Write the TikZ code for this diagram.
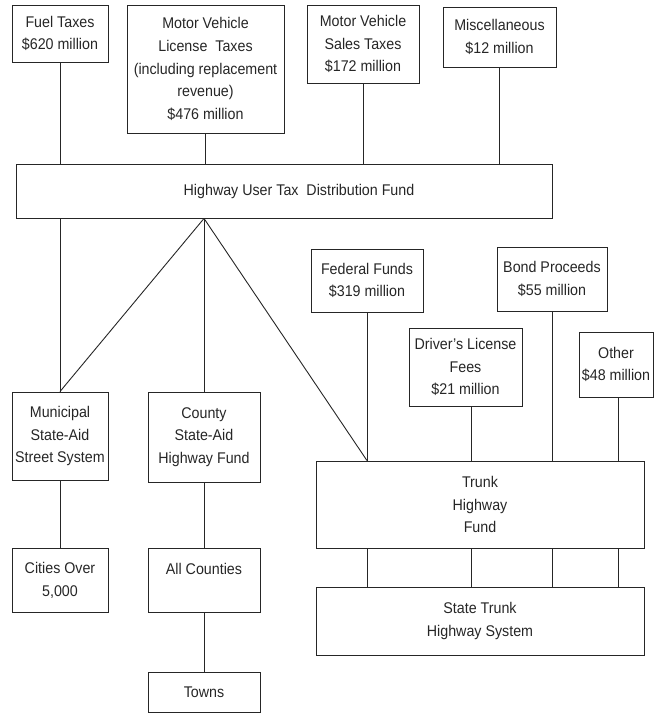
\documentclass[tikz,border=0pt]{standalone}
\usepackage{fontspec}
\setmainfont[FakeStretch=0.92]{Liberation Sans}
\begin{document}
\begin{tikzpicture}[x=1pt,y=-1pt,
  box/.style={draw=black!85, line width=0.9pt, align=center, inner sep=0pt,
    font=\fontsize{15.5}{22.8}\selectfont, text=black!85},
  conn/.style={draw=black!85, line width=0.9pt}]
\useasboundingbox (0,0) rectangle (654,713);
% top sources
\node[box, minimum width=96, minimum height=57] (fuel) at (60,33.5) {Fuel Taxes\\\$620 million};
\node[box, minimum width=157, minimum height=128] (mvlt) at (205.5,69) {Motor Vehicle\\License\ \ Taxes\\(including replacement\\revenue)\\\$476 million};
\node[box, minimum width=112, minimum height=78] (mvst) at (363,44) {Motor Vehicle\\Sales Taxes\\\$172 million};
\node[box, minimum width=113, minimum height=60] (misc) at (499.5,37) {Miscellaneous\\\$12 million};
% fund
\node[box, minimum width=536, minimum height=54] (fund) at (284,191) {\hspace{30pt}Highway User Tax\ \ Distribution Fund};
% left branches
\node[box, minimum width=96, minimum height=88] (muni) at (60,436) {\raisebox{-4pt}{\parbox{96pt}{\centering Municipal\\State-Aid\\Street System}}};
\node[box, minimum width=112, minimum height=90] (county) at (204,437) {County\\State-Aid\\Highway Fund};
\node[box, minimum width=96, minimum height=64] (cities) at (60,580) {\raisebox{-4pt}{\parbox{96pt}{\centering Cities Over\\5,000}}};
\node[box, minimum width=112, minimum height=64] (allc) at (204,580) {All Counties\\\mbox{}};
\node[box, minimum width=112, minimum height=40] (towns) at (204,692) {Towns};
% trunk sources
\node[box, minimum width=112, minimum height=63] (fed) at (367,280.5) {Federal Funds\\\$319 million};
\node[box, minimum width=110, minimum height=64] (bond) at (552,279) {Bond Proceeds\\\$55 million};
\node[box, minimum width=113, minimum height=78] (dlf) at (465.5,367) {Driver's License\\Fees\\\$21 million};
\node[box, minimum width=74, minimum height=65] (other) at (616,364.5) {Other\\\$48 million};
\node[box, minimum width=328, minimum height=87] (trunk) at (480,504.5) {Trunk\\Highway\\Fund};
\node[box, minimum width=328, minimum height=68] (state) at (480,621) {State Trunk\\Highway System};
% helper coordinates
\coordinate (dlfx) at ([xshift=5.5pt]dlf.south);
\coordinate (othx) at ([xshift=2.5pt]other.south);
\coordinate (apex) at (county.north |- fund.south);
% connectors into fund
\draw[conn] (fuel.south) -- (fuel.south |- fund.north);
\draw[conn] (mvlt.south) -- (mvlt.south |- fund.north);
\draw[conn] (mvst.south) -- (mvst.south |- fund.north);
\draw[conn] (misc.south) -- (misc.south |- fund.north);
% from fund
\draw[conn] (muni.north |- fund.south) -- (muni.north);
\draw[conn] (apex) -- (muni.north);
\draw[conn] (apex) -- (county.north);
\draw[conn] (apex) -- (fed.south |- trunk.north);
% left chains
\draw[conn] (muni.south) -- (cities.north);
\draw[conn] (county.south) -- (allc.north);
\draw[conn] (allc.south) -- (towns.north);
% into trunk
\draw[conn] (fed.south) -- (fed.south |- trunk.north);
\draw[conn] (dlfx) -- (dlfx |- trunk.north);
\draw[conn] (bond.south) -- (bond.south |- trunk.north);
\draw[conn] (othx) -- (othx |- trunk.north);
% trunk to state
\draw[conn] (fed.south |- trunk.south) -- (fed.south |- state.north);
\draw[conn] (dlfx |- trunk.south) -- (dlfx |- state.north);
\draw[conn] (bond.south |- trunk.south) -- (bond.south |- state.north);
\draw[conn] (othx |- trunk.south) -- (othx |- state.north);
\end{tikzpicture}
\end{document}
